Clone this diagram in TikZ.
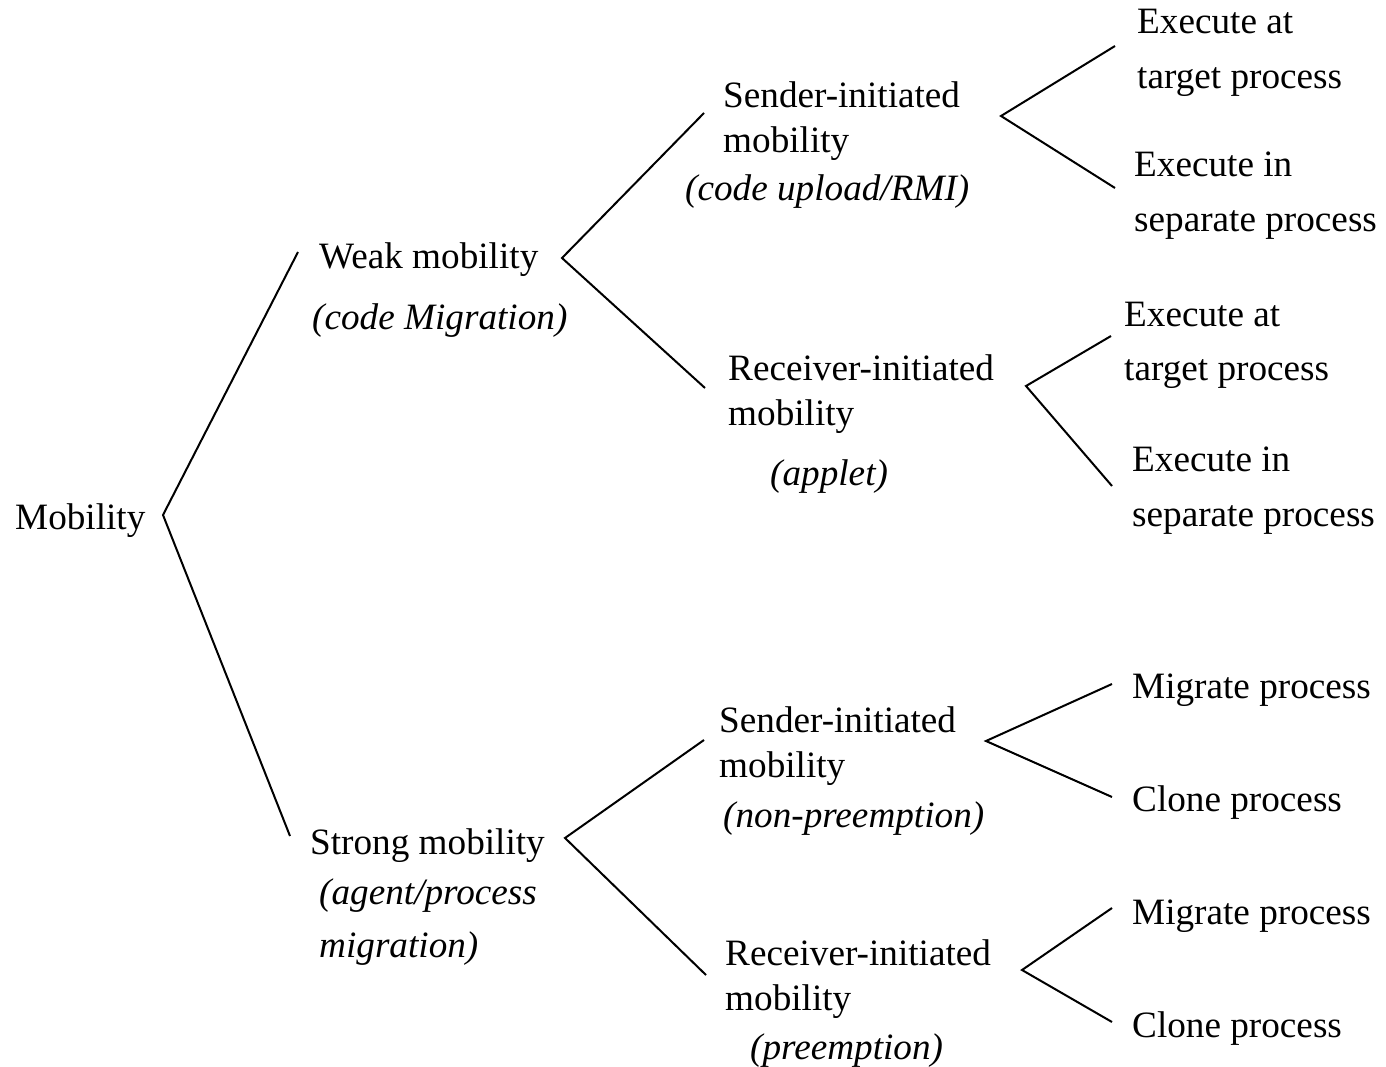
\documentclass[tikz,border=0pt]{standalone}
\usepackage{fontspec}
\setmainfont{Liberation Serif}
\begin{document}
\begin{tikzpicture}[x=1pt,y=-1pt,
 txt/.style={anchor=base west,inner sep=0pt,font=\fontsize{37.2}{45}\selectfont},
 itx/.style={anchor=base west,inner sep=0pt,font=\fontsize{37.2}{45}\selectfont\itshape},
 link/.style={line width=2pt}]
\fill[white] (0,0) rectangle (1386,1067);
\useasboundingbox (0,0) rectangle (1386,1067);
% texts
\node[txt] (m) at (15,529) {Mobility};
\node[txt] (w1) at (319,269) {Weak mobility};
\node[itx] (w2) at (312,329) {(code Migration)};
\node[txt] (s1) at (310,854) {Strong mobility};
\node[itx] (s2) at (319,904) {(agent/process};
\node[itx] (s3) at (319,957) {migration)};
\node[txt] (ws1) at (723,108) {Sender-initiated};
\node[txt] (ws2) at (723,153) {mobility};
\node[itx] (ws3) at (685,201) {(code upload/RMI)};
\node[txt] (wr1) at (728,380) {Receiver-initiated};
\node[txt] (wr2) at (728,425) {mobility};
\node[itx] (wr3) at (770,485) {(applet)};
\node[txt] (a1) at (1137,34) {Execute at};
\node[txt] (a2) at (1137,89) {target process};
\node[txt] (a3) at (1134,177) {Execute in};
\node[txt] (a4) at (1134,232) {separate process};
\node[txt] (b1) at (1124,326) {Execute at};
\node[txt] (b2) at (1124,380) {target process};
\node[txt] (b3) at (1132,471) {Execute in};
\node[txt] (b4) at (1132,526) {separate process};
\node[txt] (ss1) at (719,732) {Sender-initiated};
\node[txt] (ss2) at (719,777) {mobility};
\node[itx] (ss3) at (723,827) {(non-preemption)};
\node[txt] (sr1) at (725,965) {Receiver-initiated};
\node[txt] (sr2) at (725,1010) {mobility};
\node[itx] (sr3) at (750,1059) {(preemption)};
\node[txt] (c1) at (1132,698) {Migrate process};
\node[txt] (c2) at (1132,811) {Clone process};
\node[txt] (d1) at (1132,924) {Migrate process};
\node[txt] (d2) at (1132,1037) {Clone process};
% line coordinates
\coordinate (vm) at (163,515);
\coordinate (vmT) at (298,252);
\coordinate (vmB) at (290,836);
\coordinate (vw) at (562,258);
\coordinate (vwT) at (704,113);
\coordinate (vwB) at (705,388);
\coordinate (vs) at (565,838);
\coordinate (vsT) at (704,740);
\coordinate (vsB) at (706,975);
\coordinate (vws) at (1001,116);
\coordinate (vwsT) at (1115,46);
\coordinate (vwsB) at (1115,188);
\coordinate (vwr) at (1026,386);
\coordinate (vwrT) at (1111,336);
\coordinate (vwrB) at (1112,486);
\coordinate (vss) at (986,741);
\coordinate (vssT) at (1112,684);
\coordinate (vssB) at (1112,797);
\coordinate (vsr) at (1022,970);
\coordinate (vsrT) at (1112,908);
\coordinate (vsrB) at (1112,1022);
% connectors
\draw[link] (vmT) -- (vm) -- (vmB);
\draw[link] (vwT) -- (vw) -- (vwB);
\draw[link] (vsT) -- (vs) -- (vsB);
\draw[link] (vwsT) -- (vws) -- (vwsB);
\draw[link] (vwrT) -- (vwr) -- (vwrB);
\draw[link] (vssT) -- (vss) -- (vssB);
\draw[link] (vsrT) -- (vsr) -- (vsrB);
\end{tikzpicture}
\end{document}
